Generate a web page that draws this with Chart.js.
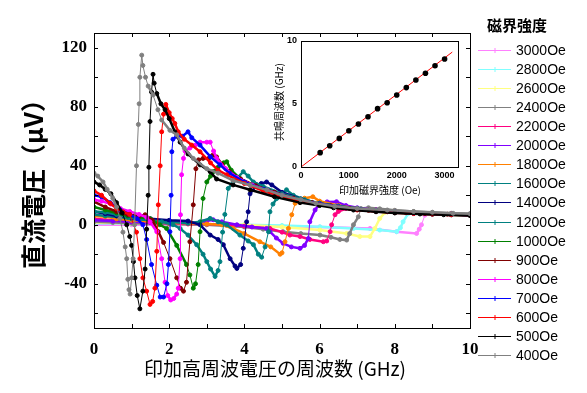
<!DOCTYPE html>
<html>
<head>
<meta charset="utf-8">
<script src="https://cdn.jsdelivr.net/npm/chart.js@4"></script>
<style>
  html, body { margin: 0; padding: 0; background: #fff; }
  #wrap { position: relative; width: 587px; height: 393px; }
  #wrap canvas { position: absolute; left: 0; top: 0; }
</style>
</head>
<body>
<div id="wrap">
  <canvas id="mainChart" width="587" height="393"></canvas>
  <canvas id="insetChart" width="587" height="393"></canvas>
</div>
<script>
// frequency (GHz), DC voltage (uV) for each applied field
const s400 = [[0,35],[0.1,33],[0.24,29],[0.35,24],[0.5,18],[0.6,12],[0.69,4.3],[0.77,-5],[0.83,-15],[0.87,-23],[0.9,-37],[0.93,-44],[0.96,-47],[1.0,-36],[1.04,-23],[1.08,0],[1.13,40],[1.18,68],[1.2,82],[1.22,100],[1.27,115],[1.3,108],[1.37,100],[1.44,94],[1.57,88],[1.7,78],[1.8,71],[2.02,64],[2.2,61],[2.4,52],[2.64,45],[3.0,38],[3.3,35],[3.7,30],[4.15,27],[4.6,23.5],[5.0,20],[5.5,17],[5.9,14.5],[6.4,12.5],[7.0,11],[7.8,10],[8.5,9],[9.0,8.5],[9.55,7.8],[10,7.5]];
const s500 = [[0,29],[0.15,27],[0.3,24],[0.45,21],[0.6,15],[0.75,8],[0.87,0],[0.95,-8],[1.0,-14],[1.05,-25],[1.09,-36],[1.15,-48],[1.22,-57],[1.3,-45],[1.36,-30],[1.4,-3],[1.44,20],[1.46,39],[1.49,70],[1.53,90],[1.57,102],[1.6,96],[1.67,89],[1.78,82],[1.89,78],[2.0,72],[2.15,63],[2.29,56],[2.5,48],[2.82,40.6],[3.09,36],[3.26,31],[3.7,27],[4.15,23.7],[4.8,19],[5.48,15],[6.0,13],[6.37,11.5],[6.9,10],[7.5,8.8],[8.0,8],[8.67,7.3],[9.3,6.8],[10,6.3]];
const s600 = [[0,23],[0.2,20],[0.43,14.5],[0.6,11],[0.77,8.8],[0.95,7],[1.13,-5],[1.22,-23],[1.3,-36],[1.4,-45],[1.49,-54],[1.56,-52],[1.62,-43],[1.67,-18],[1.71,13.5],[1.76,40],[1.8,63],[1.85,75],[1.91,81.6],[2.0,76],[2.08,72],[2.15,68.7],[2.24,63],[2.4,58],[2.6,54],[2.82,49.5],[3.1,42],[3.3,37],[3.53,33.9],[4.0,28],[4.5,23],[5.0,19],[5.5,16],[6.0,13.5],[6.5,11.5],[7.0,10],[7.5,9],[8.0,8.2],[8.5,7.6],[9.0,7.2],[9.5,6.8],[10,6.5]];
const s700 = [[0,20],[0.2,19],[0.43,15],[0.7,10],[0.95,7],[1.15,4],[1.3,0],[1.4,-10],[1.53,-27],[1.67,-41],[1.76,-49],[1.85,-49],[1.94,-40],[1.98,-27],[2.02,-4.7],[2.05,20],[2.07,49.5],[2.1,58],[2.2,60],[2.35,60],[2.5,63],[2.6,59],[2.82,54],[3.1,46],[3.35,40.6],[3.6,35],[4.0,29],[4.5,24],[5.0,20],[5.5,16.5],[6.0,14],[6.5,12],[7.0,10.3],[7.5,9.2],[8.0,8.4],[8.5,7.8],[9.0,7.3],[9.5,6.9],[10,6.5]];
const s800 = [[0,17],[0.2,16],[0.45,14],[0.7,11],[0.95,9],[1.2,7],[1.4,5],[1.49,2],[1.67,-4.7],[1.8,-23],[1.89,-39],[1.96,-48],[2.04,-51],[2.12,-50],[2.2,-47],[2.24,-43],[2.29,-23],[2.3,6.8],[2.33,33.9],[2.38,45],[2.42,50],[2.55,52],[2.7,54],[2.82,56],[3.0,56],[3.09,56],[3.18,50],[3.26,45],[3.5,38],[3.8,32],[4.2,27],[4.6,23.5],[5.0,20],[5.5,16.5],[6.0,14],[6.5,12],[7.0,10.5],[7.5,9.3],[8.0,8.5],[8.5,7.9],[9.0,7.4],[9.5,7],[10,6.6]];
const s900 = [[0,15.6],[0.3,12],[0.6,9],[0.9,7],[1.2,6],[1.36,6.8],[1.55,3],[1.71,-4.7],[1.85,-12],[2.02,-23],[2.2,-36],[2.3,-43],[2.38,-45],[2.46,-39],[2.55,-11.5],[2.64,13.5],[2.71,38],[2.78,44],[2.9,45],[3.05,45],[3.15,47],[3.26,46],[3.4,41],[3.6,36],[3.9,31],[4.3,26.5],[4.8,22],[5.3,18],[5.8,15],[6.3,12.8],[6.8,11],[7.3,9.8],[7.8,8.8],[8.3,8.1],[8.8,7.6],[9.4,7.1],[10,6.7]];
const s1000 = [[0,12],[0.3,10],[0.6,8],[0.9,6],[1.2,5],[1.5,4],[1.75,0],[1.93,-2.5],[2.2,-14],[2.46,-27],[2.55,-34],[2.64,-43],[2.7,-40],[2.77,-27],[2.82,-4.7],[2.9,17.8],[3.0,29],[3.1,33],[3.17,36],[3.3,39],[3.45,42],[3.53,42.7],[3.65,37],[3.88,31.4],[4.2,27],[4.6,23],[5.0,20],[5.5,16.5],[6.0,14],[6.5,12],[7.0,10.3],[7.5,9.1],[8.0,8.3],[8.5,7.6],[9.0,7.1],[9.5,6.7],[10,6.3]];
const s1200 = [[0,9],[0.3,8.5],[0.6,7],[0.9,5],[1.2,4],[1.5,3],[1.8,2],[2.1,0],[2.29,-2.5],[2.5,-7],[2.73,-13.5],[2.9,-20],[3.0,-25],[3.1,-30],[3.22,-35],[3.3,-31],[3.35,-25],[3.42,-5],[3.48,7],[3.57,24.6],[3.7,29],[3.8,31.4],[3.97,36],[4.1,33],[4.24,29],[4.5,26],[5.0,21],[5.5,17.5],[6.0,14.5],[6.5,12.5],[7.0,11],[7.5,9.8],[8.0,8.8],[8.5,8],[9.0,7.5],[9.5,7],[10,6.6]];
const s1400 = [[0,9],[0.3,7.5],[0.6,6],[1.0,5],[1.5,4],[2.0,3],[2.5,2.5],[2.82,0],[3.09,-7],[3.3,-10],[3.44,-13.5],[3.62,-23],[3.75,-28],[3.8,-29.6],[3.9,-27],[3.97,-16],[4.06,2],[4.1,8.8],[4.15,21],[4.33,27],[4.45,28],[4.59,29],[4.73,27],[5.0,22],[5.5,17.5],[6.0,14.5],[6.5,12.5],[7.0,11],[7.5,9.8],[8.0,8.9],[8.5,8.1],[9.0,7.5],[9.5,7],[10,6.6]];
const s1600 = [[0,7],[0.3,6],[0.7,5],[1.0,4],[1.5,3],[2.0,2],[2.5,1],[2.82,2],[3.09,4.3],[3.3,2],[3.53,0],[3.88,-7],[4.1,-11],[4.24,-13.5],[4.37,-20],[4.46,-22],[4.55,-15],[4.64,-4.7],[4.68,8.8],[4.76,14],[4.86,17.8],[5.0,21],[5.12,23.7],[5.3,20],[5.6,17],[6.0,14.5],[6.5,12.5],[7.0,11],[7.5,9.8],[8.0,8.9],[8.5,8.2],[9.0,7.6],[9.5,7.1],[10,6.7]];
const s1800 = [[0,6],[0.3,5.5],[0.6,4],[1.0,3],[1.5,2],[2.0,1],[2.5,1],[3.0,0.5],[3.4,0],[3.7,-2.5],[4.0,-6],[4.41,-11.5],[4.7,-15],[4.95,-20],[5.0,-19],[5.08,-11.5],[5.17,-2.5],[5.26,6.8],[5.35,14.5],[5.45,17],[5.6,18],[5.82,19],[6.0,16],[6.5,13],[7.0,11],[7.5,9.8],[8.0,8.9],[8.5,8.2],[9.0,7.6],[9.5,7.1],[10,6.7]];
const s2000 = [[0,3],[0.5,2.5],[1.0,2],[1.5,1.5],[2.0,1],[2.5,1],[2.9,2],[3.17,3.4],[3.4,2],[3.8,0],[4.2,-1.5],[4.59,-2.5],[4.68,-4.7],[4.85,-9],[5.03,-12.6],[5.25,-15],[5.48,-16],[5.6,-14],[5.7,-9.3],[5.74,2],[5.88,10],[6.01,14.5],[6.2,15.5],[6.45,15.6],[6.7,13],[7.0,11.5],[7.5,10],[8.0,9],[8.5,8.2],[9.0,7.6],[9.5,7.1],[10,6.7]];
const s2200 = [[0,4],[0.5,3],[1.0,2],[1.5,1.5],[2.0,1],[2.5,0.5],[3.0,0.5],[3.5,0],[4.0,-1],[4.68,-2.5],[5.0,-5],[5.21,-7],[5.48,-8],[5.74,-10],[6.1,-11.5],[6.19,-11],[6.28,-4.7],[6.32,0],[6.41,6.8],[6.5,9],[6.7,11],[7.0,11],[7.5,10],[8.0,9],[8.5,8.3],[9.0,7.7],[9.5,7.2],[10,6.8]];
const s2400 = [[0,2],[0.5,1.5],[1.0,1],[2.0,0.5],[3.0,0],[4.0,-1.5],[4.5,-3],[5.03,-4.7],[5.5,-6],[6.01,-7],[6.3,-8.5],[6.54,-10],[6.72,-10.4],[6.8,-6],[6.9,0],[7.03,5.4],[7.1,11],[7.3,11.5],[7.6,10.8],[8.0,9.8],[8.5,9],[9.0,8.3],[9.5,7.8],[10,7.4]];
const s2600 = [[0,1.5],[1.0,1],[2.0,0.5],[3.0,0.3],[4.0,0],[5.0,-1.5],[6.01,-3.6],[6.72,-5.9],[7.07,-8],[7.34,-8],[7.47,-2.5],[7.6,4.3],[7.75,8.5],[8.0,9.5],[8.5,8.7],[9.0,8],[9.5,7.5],[10,7.1]];
const s2800 = [[0,1],[1.0,0.8],[2.0,0.5],[3.0,0.3],[4.0,0],[5.0,-0.5],[6.01,-1.4],[6.9,-2.5],[7.6,-3.6],[8.05,-4.7],[8.15,-2],[8.22,2],[8.36,7.7],[8.5,8.5],[9.0,8],[9.5,7.5],[10,7.1]];
const s3000 = [[0,0],[1.0,0],[2.0,0],[3.0,0],[4.0,-0.5],[5.0,-1],[6.0,-1.5],[7.34,-2.5],[8.05,-4.7],[8.58,-5.9],[8.65,-3],[8.71,0],[8.8,6.5],[9.0,8],[9.5,7.5],[10,7.1]];

const fieldLabels = ['3000Oe','2800Oe','2600Oe','2400Oe','2200Oe','2000Oe','1800Oe','1600Oe','1400Oe','1200Oe','1000Oe','900Oe','800Oe','700Oe','600Oe','500Oe','400Oe'];
const fieldSeries = [s3000,s2800,s2600,s2400,s2200,s2000,s1800,s1600,s1400,s1200,s1000,s900,s800,s700,s600,s500,s400];
const xTickValues = [0, 2, 4, 6, 8, 10];
const yTickValues = [-40, 0, 40, 80, 120];

// inset: resonance frequency vs applied field
const resField = [400,600,800,1000,1200,1400,1600,1800,2000,2200,2400,2600,2800,3000];
const resFreq = [1.14,1.69,2.27,2.88,3.41,3.99,4.63,5.1,5.71,6.3,6.9,7.44,8.04,8.57];
const fitField = [0, 3160];
const fitFreq = [0, 9.12];
const insetXTicks = [0, 1000, 2000, 3000];
const insetYTicks = [0, 5, 10];

const seriesColors = ['#ff80ff','#80ffff','#ffff80','#808080','#ff0080','#8000ff','#ff8000','#008080','#000080','#008080','#008000','#800000','#ff00ff','#0000ff','#ff0000','#000000','#808080'];

const toXY = arr => arr.map(p => ({ x: p[0], y: p[1] }));

// 400Oe drawn on top, so reverse the order for chart.js
const datasets = fieldLabels.map((label, i) => ({
  label: label,
  data: toXY(fieldSeries[i]),
  borderColor: seriesColors[i],
  backgroundColor: seriesColors[i],
  borderWidth: 2.5,
  pointRadius: 2,
  pointBorderWidth: 1,
  pointStyle: 'circle',
  tension: 0,
  segment: {
    borderWidth: ctx => {
      const dx = Math.abs(ctx.p1.x - ctx.p0.x);
      const dy = Math.abs(ctx.p1.y - ctx.p0.y);
      return dy > 2.5 * dx ? 1 : 2.5;
    }
  }
})).reverse();

const frameTicks = {
  id: 'frameTicks',
  afterDraw(chart) {
    const { ctx, chartArea: a, scales } = chart;
    ctx.save();
    ctx.strokeStyle = '#000';
    ctx.lineWidth = 1;
    ctx.strokeRect(a.left + 0.5, a.top + 0.5, a.right - a.left, a.bottom - a.top);
    ctx.beginPath();
    for (let f = 1; f < 10; f++) {
      const x = Math.round(scales.x.getPixelForValue(f)) + 0.5;
      ctx.moveTo(x, a.bottom); ctx.lineTo(x, a.bottom - 4);
      ctx.moveTo(x, a.top); ctx.lineTo(x, a.top + 4);
    }
    for (let v = -60; v <= 120; v += 20) {
      const y = Math.round(scales.y.getPixelForValue(v)) + 0.5;
      ctx.moveTo(a.left, y); ctx.lineTo(a.left + 4, y);
      ctx.moveTo(a.right, y); ctx.lineTo(a.right - 4, y);
    }
    ctx.stroke();

    // axis titles
    ctx.fillStyle = '#000';
    ctx.textAlign = 'center';
    ctx.textBaseline = 'middle';
    ctx.font = '19px "Noto Sans CJK JP"';
    ctx.fillText('印加高周波電圧の周波数 (GHz)', 275, 369);
    ctx.save();
    ctx.translate(33, 178);
    ctx.rotate(-Math.PI / 2);
    ctx.font = 'bold 25px "Noto Sans CJK JP"';
    ctx.fillText('直流電圧（μV）', 0, 0);
    ctx.restore();

    // legend
    ctx.font = 'bold 15px "Noto Sans CJK JP"';
    ctx.fillText('磁界強度', 517, 25);
    ctx.textAlign = 'left';
    ctx.font = '14px "Liberation Sans"';
    fieldLabels.forEach((label, i) => {
      const y = Math.round(50 + i * 19.06) + 0.5;
      ctx.strokeStyle = seriesColors[i];
      ctx.beginPath();
      ctx.moveTo(478, y); ctx.lineTo(511, y);
      ctx.moveTo(495, y - 2.5); ctx.lineTo(495, y + 2.5);
      ctx.stroke();
      ctx.fillStyle = '#000';
      ctx.fillText(label, 516, y + 1);
    });
    ctx.restore();
  }
};

new Chart(document.getElementById('mainChart'), {
  type: 'line',
  data: { datasets: datasets },
  options: {
    responsive: false,
    animation: false,
    events: [],
    layout: { padding: { left: 34, right: 117, top: 33, bottom: 25 } },
    plugins: { legend: { display: false }, tooltip: { enabled: false } },
    scales: {
      x: {
        type: 'linear', min: 0, max: 10,
        grid: { display: false, drawTicks: false }, border: { display: false },
        afterBuildTicks: s => { s.ticks = xTickValues.map(v => ({ value: v })); },
        afterFit: s => { s.height = 40; },
        ticks: { padding: 11, maxRotation: 0, color: '#000',
                 callback: v => String(v),
                 font: { family: 'Liberation Serif', size: 17, weight: 'bold' } }
      },
      y: {
        min: -70, max: 130,
        grid: { display: false, drawTicks: false }, border: { display: false },
        afterBuildTicks: s => { s.ticks = yTickValues.map(v => ({ value: v })); },
        afterFit: s => { s.width = 60; },
        ticks: { padding: 7, color: '#000',
                 callback: v => String(v),
                 font: { family: 'Liberation Serif', size: 17, weight: 'bold' } }
      }
    }
  },
  plugins: [frameTicks]
});

const insetFrame = {
  id: 'insetFrame',
  afterDraw(chart) {
    const { ctx, chartArea: a } = chart;
    ctx.save();
    ctx.strokeStyle = '#000';
    ctx.lineWidth = 1;
    ctx.strokeRect(a.left + 0.5, a.top + 0.5, a.right - a.left, a.bottom - a.top);
    ctx.fillStyle = '#000';
    ctx.textAlign = 'center';
    ctx.textBaseline = 'middle';
    ctx.font = '10px "Noto Sans CJK JP"';
    ctx.fillText('印加磁界強度 (Oe)', 380, 190);
    ctx.translate(279, 102);
    ctx.rotate(-Math.PI / 2);
    ctx.fillText('共鳴周波数 (GHz)', 0, 0);
    ctx.restore();
  }
};

new Chart(document.getElementById('insetChart'), {
  type: 'scatter',
  data: {
    datasets: [
      {
        data: resField.map((h, i) => ({ x: h, y: resFreq[i] })),
        backgroundColor: '#000', borderColor: '#000',
        pointRadius: 2.8, pointBorderWidth: 0
      },
      {
        type: 'line',
        data: fitField.map((h, i) => ({ x: h, y: fitFreq[i] })),
        borderColor: '#ff0000', borderWidth: 1, pointRadius: 0
      }
    ]
  },
  options: {
    responsive: false,
    animation: false,
    events: [],
    layout: { padding: { left: 281, right: 129, top: 41, bottom: 212 } },
    plugins: { legend: { display: false }, tooltip: { enabled: false } },
    scales: {
      x: {
        type: 'linear', min: 0, max: 3280,
        grid: { display: false, drawTicks: false }, border: { display: false },
        afterBuildTicks: s => { s.ticks = insetXTicks.map(v => ({ value: v })); },
        afterFit: s => { s.height = 14; },
        ticks: { padding: 3, maxRotation: 0, color: '#000',
                 callback: v => String(v),
                 font: { family: 'Liberation Sans', size: 9, weight: 'bold' } }
      },
      y: {
        min: 0, max: 10,
        grid: { display: false, drawTicks: false }, border: { display: false },
        afterBuildTicks: s => { s.ticks = insetYTicks.map(v => ({ value: v })); },
        afterFit: s => { s.width = 20; },
        ticks: { padding: 4, color: '#000',
                 callback: v => String(v),
                 font: { family: 'Liberation Sans', size: 9, weight: 'bold' } }
      }
    }
  },
  plugins: [insetFrame]
});
</script>
</body>
</html>
